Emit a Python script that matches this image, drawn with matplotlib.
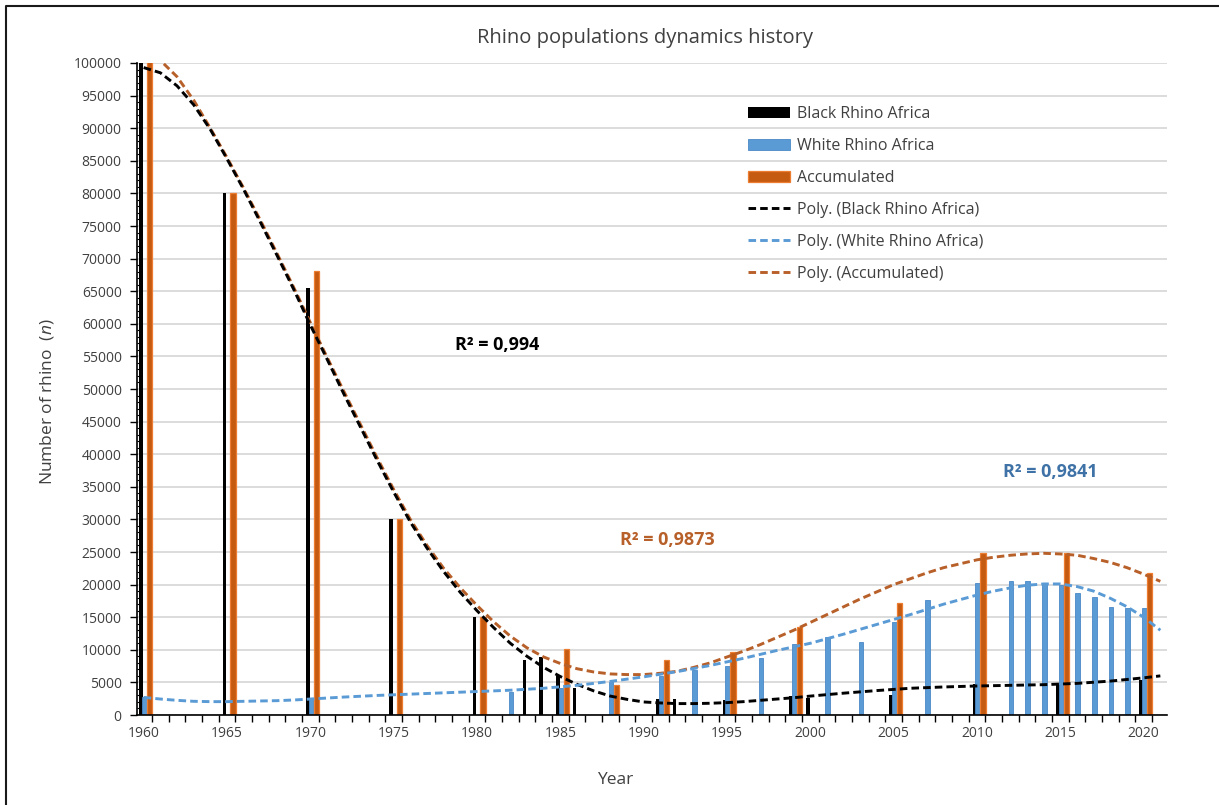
import numpy as np
import matplotlib.pyplot as plt
from matplotlib.lines import Line2D
from matplotlib.ticker import MultipleLocator, FixedLocator

plt.rcParams['font.family'] = ['Open Sans', 'DejaVu Sans']
plt.rcParams['mathtext.fontset'] = 'custom'
plt.rcParams['mathtext.rm'] = 'Open Sans'
plt.rcParams['mathtext.it'] = 'Open Sans:italic'

# bar data
black_years = [1960, 1965, 1970, 1975, 1980, 1983, 1984, 1985, 1986, 1991, 1992,
               1995, 1999, 2000, 2005, 2010, 2015, 2020]
black_counts = [100000, 80000, 65500, 30000, 15000, 8500, 8900, 6000, 4100, 2500, 2400,
                2300, 2900, 2600, 3100, 4800, 4600, 5400]

white_years = [1960, 1970, 1982, 1985, 1988, 1991, 1993, 1995, 1997, 1999, 2001, 2003,
               2005, 2007, 2010, 2012, 2013, 2014, 2015, 2016, 2017, 2018, 2019, 2020]
white_counts = [2800, 2600, 3600, 4100, 5100, 6000, 6900, 7500, 8800, 10900, 11900, 11200,
                14300, 17600, 20200, 20600, 20600, 20100, 19900, 18700, 18100, 16600, 16400, 16400]

accum_years = [1960, 1965, 1970, 1975, 1980, 1985, 1988, 1991, 1995, 1999, 2005, 2010, 2015, 2020]
accum_counts = [102800, 80000, 68100, 30000, 15000, 10100, 4600, 8500, 9600, 13500, 17200,
                24900, 24800, 21800]

# polynomial trend lines (Excel "Poly.")
black_trend_x = [1960, 1961, 1962, 1963, 1964, 1965, 1966, 1967, 1968, 1969, 1970, 1971,
                 1972, 1973, 1974, 1975, 1976, 1977, 1978, 1979, 1980, 1981, 1982, 1983,
                 1984, 1985, 1986, 1987, 1988, 1989, 1990, 1991, 1992, 1993, 1994, 1995,
                 1996, 1997, 1998, 1999, 2000, 2002, 2004, 2006, 2008, 2010, 2012, 2014,
                 2016, 2018, 2020, 2021]
black_trend_y = [99300, 98500, 96500, 93600, 89800, 85300, 80600, 75600, 70500, 65300, 59800, 54600,
                 49300, 44200, 39100, 34200, 29600, 25600, 22000, 18800, 16000, 13400, 11000, 9000,
                 7300, 5900, 4700, 3700, 2900, 2400, 2000, 1850, 1750, 1750, 1800, 1900,
                 2050, 2250, 2450, 2650, 2900, 3350, 3750, 4100, 4300, 4450, 4550, 4650,
                 4850, 5200, 5700, 6000]

white_trend_x = [1960, 1961, 1962, 1963, 1964, 1965, 1966, 1967, 1968, 1969, 1970, 1972,
                 1974, 1976, 1978, 1980, 1982, 1984, 1986, 1988, 1990, 1992, 1994, 1996,
                 1998, 2000, 2002, 2004, 2006, 2008, 2010, 2011, 2012, 2013, 2014, 2015,
                 2016, 2017, 2018, 2019, 2020, 2021]
white_trend_y = [2700, 2450, 2250, 2100, 2050, 2050, 2100, 2150, 2200, 2300, 2450, 2750,
                 3000, 3200, 3400, 3600, 3800, 4100, 4550, 5150, 5850, 6650, 7600, 8700,
                 9900, 11000, 12400, 13900, 15400, 17000, 18400, 19000, 19500, 19900, 20100, 20100,
                 19700, 19000, 17900, 16600, 15000, 13000]

accum_trend_x = [1960, 1961, 1962, 1963, 1964, 1965, 1966, 1967, 1968, 1969, 1970, 1971,
                 1972, 1973, 1974, 1975, 1976, 1977, 1978, 1979, 1980, 1981, 1982, 1983,
                 1984, 1985, 1986, 1987, 1988, 1989, 1990, 1991, 1992, 1993, 1994, 1995,
                 1996, 1997, 1998, 1999, 2000, 2001, 2002, 2003, 2004, 2005, 2006, 2007,
                 2008, 2009, 2010, 2011, 2012, 2013, 2014, 2015, 2016, 2017, 2018, 2019,
                 2020, 2021]
accum_trend_y = [101600, 100400, 97900, 94300, 90000, 85500, 80800, 75900, 70800, 65600, 60200, 54900,
                 49700, 44600, 39500, 34600, 30000, 26000, 22500, 19500, 16800, 14300, 12100, 10300,
                 8900, 7900, 7100, 6600, 6300, 6200, 6200, 6400, 6700, 7300, 8000, 8900,
                 9800, 10800, 11900, 13000, 14200, 15400, 16600, 17800, 18900, 20000, 20900, 21800,
                 22600, 23200, 23800, 24200, 24500, 24700, 24800, 24700, 24500, 24000, 23400, 22600,
                 21600, 20500]

r2_labels = ['R² = 0,994', 'R² = 0,9873', 'R² = 0,9841']

BLACK = '#000000'
BLUE = '#5B9BD5'
BLUE_DARK = '#3F72A6'
ORANGE_FILL = '#C55A11'
ORANGE_EDGE = '#ED7D31'
TREND_ORANGE = '#B8602A'
TEXT = '#404040'

W, H = 1219, 805
fig = plt.figure(figsize=(W / 100, H / 100), dpi=100)
ax = fig.add_axes([137 / W, 1 - 715 / H, 1030 / W, 652 / H])

b_black = ax.bar(np.array(black_years) - 0.15, black_counts, width=0.22, color=BLACK,
                 label='Black Rhino Africa', zorder=2)
b_white = ax.bar(np.array(white_years) + 0.05, white_counts, width=0.28, color=BLUE,
                 edgecolor='#4A88C7', linewidth=0.6, label='White Rhino Africa', zorder=2)
b_accum = ax.bar(np.array(accum_years) + 0.36, accum_counts, width=0.32, color=ORANGE_FILL,
                 edgecolor=ORANGE_EDGE, linewidth=0.9, label='Accumulated', zorder=2)

dash = (0, (2.6, 1.4))
l_black, = ax.plot(black_trend_x, black_trend_y, color=BLACK, lw=2.1, ls=dash,
                   label='Poly. (Black Rhino Africa)', zorder=4)
l_white, = ax.plot(white_trend_x, white_trend_y, color=BLUE, lw=2.1, ls=dash,
                   label='Poly. (White Rhino Africa)', zorder=4)
l_accum, = ax.plot(accum_trend_x, accum_trend_y, color=TREND_ORANGE, lw=2.1, ls=dash,
                   label='Poly. (Accumulated)', zorder=3)

ax.set_xlim(1959.6, 2021.4)
ax.set_ylim(0, 100000)

ax.yaxis.set_major_locator(MultipleLocator(5000))
ax.yaxis.set_minor_locator(MultipleLocator(1000))
ax.xaxis.set_major_locator(FixedLocator(list(range(1960, 2021, 5))))
ax.xaxis.set_minor_locator(FixedLocator([y + 0.5 for y in range(1959, 2021)]))

ax.tick_params(axis='y', which='major', length=5, width=1, color=BLACK,
               labelsize=10, labelcolor=TEXT, pad=6)
ax.tick_params(axis='y', which='minor', direction='in', length=3, width=0.8, color=BLACK)
ax.tick_params(axis='x', which='major', length=0, labelsize=10, labelcolor=TEXT, pad=8)
ax.tick_params(axis='x', which='minor', direction='out', length=5, width=1, color=BLACK)

ax.grid(axis='y', color='#D9D9D9', lw=1.3, zorder=0)
ax.set_axisbelow(True)
for side in ['top', 'right']:
    ax.spines[side].set_visible(False)
for side in ['left', 'bottom']:
    ax.spines[side].set_color(BLACK)
    ax.spines[side].set_linewidth(1.2)

fig.text(645 / W, 1 - 38 / H, 'Rhino populations dynamics history', ha='center',
         va='center', fontsize=14.5, color=TEXT)
fig.text(47 / W, 1 - 402 / H, r'Number of rhino  ($\it{n}$)', rotation=90, ha='center',
         va='center', fontsize=12.5, color=TEXT)
fig.text(615 / W, 1 - 780 / H, 'Year', ha='center', va='center', fontsize=12.5, color=TEXT)

fig.text(455 / W, 1 - 345 / H, r2_labels[0], ha='left', va='center', fontsize=13,
         fontweight='bold', color=BLACK)
fig.text(620 / W, 1 - 540 / H, r2_labels[1], ha='left', va='center', fontsize=13,
         fontweight='bold', color=TREND_ORANGE)
fig.text(1003 / W, 1 - 472 / H, r2_labels[2], ha='left', va='center', fontsize=13,
         fontweight='bold', color=BLUE_DARK)

ax.legend(handles=[b_black, b_white, b_accum, l_black, l_white, l_accum],
          loc='upper left', bbox_to_anchor=(748 / W, 1 - 106 / H),
          bbox_transform=fig.transFigure, frameon=False, fontsize=11.5,
          handlelength=2.6, handletextpad=0.45, labelspacing=1.0, borderpad=0,
          borderaxespad=0, labelcolor=TEXT)

# outer chart frame (only top and left edges are visible in the crop)
fig.add_artist(Line2D([6 / W, 6 / W, 1.0], [0.0, 1 - 6 / H, 1 - 6 / H],
                      transform=fig.transFigure, color='#1A1A1A', lw=1.5))

fig.savefig('out.png', dpi=100)
